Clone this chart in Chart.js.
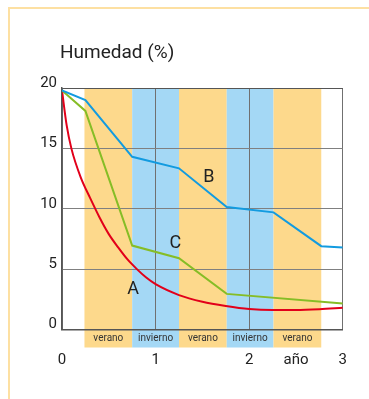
<!DOCTYPE html>
<html><head><meta charset="utf-8">
<script src="https://cdn.jsdelivr.net/npm/chart.js@4"></script>
<style>html,body{margin:0;padding:0;background:#fff;}#wrap{position:relative;width:369px;height:399px;}canvas{display:block;}</style>
</head><body><div id="wrap"><canvas id="c" width="369" height="399"></canvas></div>
<script>
const title = "Humedad (%)";
const yTicks = [0, 5, 10, 15, 20];
const xTicks = [0, 1, 2, 2.5, 3];
const xTickLabels = ["0", "1", "2", "año", "3"];
const seasons = ["verano", "invierno", "verano", "invierno", "verano"];
const seasonStart = [0.24, 0.75, 1.25, 1.76, 2.26];
const seasonEnd = [0.75, 1.25, 1.76, 2.26, 2.77];

const xB = [0, 0.25, 0.75, 1.25, 1.76, 2.26, 2.77, 3.0];
const yB = [19.8, 19.0, 14.3, 13.35, 10.15, 9.7, 6.9, 6.8];
const xC = [0, 0.25, 0.75, 1.25, 1.76, 3.0];
const yC = [19.8, 18.1, 6.95, 5.9, 2.95, 2.15];
const xA = [0, 0.05, 0.1, 0.2, 0.3, 0.4, 0.5, 0.6, 0.7, 0.8, 0.9, 1.0, 1.25, 1.5, 1.75, 2.0, 2.25, 2.5, 2.75, 3.0];
const yA = [19.8, 16.9, 15.0, 12.6, 10.9, 9.3, 7.9, 6.8, 5.8, 5.0, 4.3, 3.75, 2.85, 2.3, 1.95, 1.7, 1.62, 1.62, 1.68, 1.8];
const seriesLabels = ["A", "B", "C"];
const labelPos = [[0.76, 3.3], [1.57, 12.6], [1.21, 7.1]];

const toPts = (xs, ys) => xs.map((x, i) => ({x, y: ys[i]}));
const FONT = "Roboto, 'DejaVu Sans', sans-serif";

const deco = {
  id: 'deco',
  beforeDraw(chart) {
    const {ctx, chartArea: a, scales: {x, y}} = chart;
    ctx.save();
    ctx.fillStyle = '#fff';
    ctx.fillRect(0, 0, chart.width, chart.height);
    ctx.fillStyle = '#fde0a2';
    ctx.fillRect(8, 7, chart.width - 8, 2);
    ctx.fillRect(8, 7, 2, chart.height - 7);
    for (let i = 0; i < seasons.length; i++) {
      const x0 = x.getPixelForValue(seasonStart[i]);
      const x1 = x.getPixelForValue(seasonEnd[i]);
      ctx.fillStyle = seasons[i] === 'verano' ? '#fdd98c' : '#a4d8f5';
      ctx.fillRect(x0, a.top + 1, x1 - x0, a.bottom - a.top + 17);
    }
    ctx.restore();
  },
  afterDraw(chart) {
    const {ctx, chartArea: a, scales: {x, y}} = chart;
    ctx.save();
    ctx.fillStyle = '#222';
    ctx.font = "19px " + FONT;
    ctx.textAlign = 'left';
    ctx.textBaseline = 'alphabetic';
    ctx.fillText(title, 60, 58);
    ctx.fillStyle = '#333';
    ctx.font = "10px " + FONT;
    ctx.textAlign = 'center';
    ctx.textBaseline = 'middle';
    for (let i = 0; i < seasons.length; i++) {
      const xm = (x.getPixelForValue(seasonStart[i]) + x.getPixelForValue(seasonEnd[i])) / 2;
      ctx.fillText(seasons[i], xm, a.bottom + 9);
    }
    ctx.fillStyle = '#222';
    ctx.font = "18px " + FONT;
    for (let i = 0; i < seriesLabels.length; i++) {
      ctx.fillText(seriesLabels[i], x.getPixelForValue(labelPos[i][0]), y.getPixelForValue(labelPos[i][1]));
    }
    ctx.restore();
  }
};

new Chart(document.getElementById('c'), {
  type: 'line',
  data: {
    datasets: [
      {label: 'B', data: toPts(xB, yB), borderColor: '#129be0', borderWidth: 2, pointRadius: 0, tension: 0},
      {label: 'C', data: toPts(xC, yC), borderColor: '#86bd26', borderWidth: 2, pointRadius: 0, tension: 0},
      {label: 'A', data: toPts(xA, yA), borderColor: '#e2001a', borderWidth: 2, pointRadius: 0, cubicInterpolationMode: 'monotone'}
    ]
  },
  options: {
    responsive: false,
    animation: false,
    devicePixelRatio: 1,
    layout: {padding: {top: 88, right: 25, left: 0, bottom: 0}},
    plugins: {legend: {display: false}, tooltip: {enabled: false}},
    scales: {
      x: {
        type: 'linear', min: 0, max: 3,
        afterFit(s) { s.height = 69.5; },
        afterBuildTicks(s) { s.ticks = xTicks.map(v => ({value: v})); },
        grid: {
          color: c => (c.tick && [0, 1, 2, 3].includes(c.tick.value)) ? '#707070' : 'rgba(0,0,0,0)',
          lineWidth: 1, drawTicks: false
        },
        border: {color: '#555', width: 1.5},
        ticks: {
          padding: 22, color: '#222', font: {family: FONT, size: 15}, maxRotation: 0, autoSkip: false,
          callback: (v) => { const i = xTicks.indexOf(v); return i >= 0 ? xTickLabels[i] : ''; }
        }
      },
      y: {
        min: 0, max: 20,
        afterFit(s) { s.width = 62; },
        afterBuildTicks(s) { s.ticks = yTicks.map(v => ({value: v})); },
        grid: {color: c => (c.tick && c.tick.value === 20) ? '#555' : '#808080', lineWidth: 1, drawTicks: false},
        border: {color: '#555', width: 1.5},
        ticks: {padding: 5, labelOffset: -5, color: '#222', font: {family: FONT, size: 15}}
      }
    }
  },
  plugins: [deco]
});
</script>
</body></html>
